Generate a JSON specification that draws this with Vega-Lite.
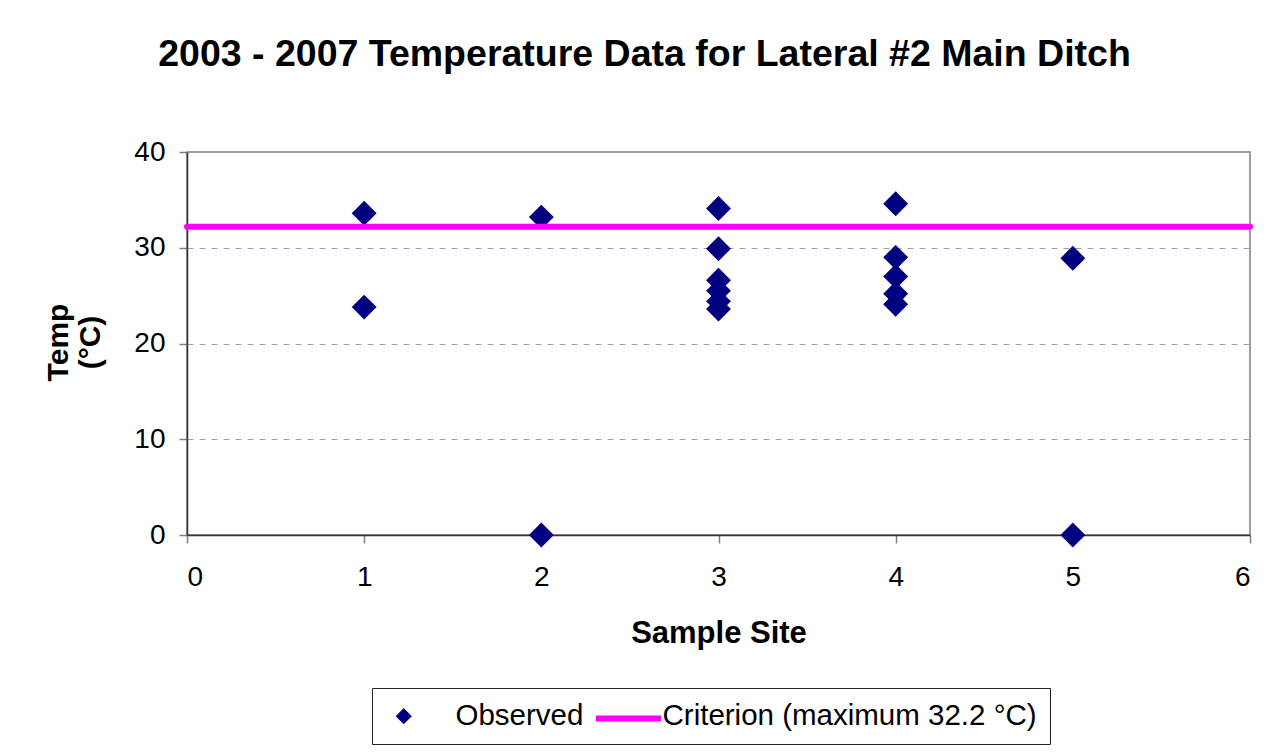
{
  "$schema": "https://vega.github.io/schema/vega-lite/v6.json",
  "width": 1063,
  "height": 383,
  "autosize": {"type": "none"},
  "padding": {"left": 187, "top": 152, "right": 34, "bottom": 218},
  "background": "white",
  "title": {
    "text": "2003 - 2007 Temperature Data for Lateral #2 Main Ditch",
    "font": "Liberation Sans",
    "fontSize": 37.5,
    "fontWeight": "bold",
    "color": "black",
    "anchor": "middle",
    "offset": 65,
    "dx": -74
  },
  "config": {
    "view": {"stroke": "#808080", "strokeWidth": 1.5},
    "axis": {
      "labelFont": "Liberation Sans",
      "labelFontSize": 28,
      "labelColor": "black",
      "titleFont": "Liberation Sans",
      "titleFontSize": 31,
      "titleFontWeight": "bold",
      "titleColor": "black",
      "domainColor": "#333333",
      "domainWidth": 1.5,
      "tickColor": "#808080",
      "tickSize": 8,
      "tickWidth": 1.5,
      "labelOverlap": false
    }
  },
  "layer": [
    {
      "data": {
        "values": [
          {"site": 1, "temp": 33.6, "series": "Observed"},
          {"site": 1, "temp": 23.8, "series": "Observed"},
          {"site": 2, "temp": 33.2, "series": "Observed"},
          {"site": 2, "temp": 0, "series": "Observed"},
          {"site": 3, "temp": 34.1, "series": "Observed"},
          {"site": 3, "temp": 29.9, "series": "Observed"},
          {"site": 3, "temp": 26.6, "series": "Observed"},
          {"site": 3, "temp": 25.5, "series": "Observed"},
          {"site": 3, "temp": 24.4, "series": "Observed"},
          {"site": 3, "temp": 23.6, "series": "Observed"},
          {"site": 4, "temp": 34.6, "series": "Observed"},
          {"site": 4, "temp": 29.0, "series": "Observed"},
          {"site": 4, "temp": 27.0, "series": "Observed"},
          {"site": 4, "temp": 25.2, "series": "Observed"},
          {"site": 4, "temp": 24.1, "series": "Observed"},
          {"site": 5, "temp": 28.9, "series": "Observed"},
          {"site": 5, "temp": 0, "series": "Observed"}
        ]
      },
      "mark": {"type": "point", "filled": true, "opacity": 1, "size": 620, "shape": "diamond"},
      "encoding": {
        "x": {
          "field": "site",
          "type": "quantitative",
          "scale": {"domain": [0, 6], "nice": false},
          "axis": {"values": [0, 1, 2, 3, 4, 5, 6], "grid": false, "title": "Sample Site", "titlePadding": 27, "labelPadding": 20}
        },
        "y": {
          "field": "temp",
          "type": "quantitative",
          "scale": {"domain": [0, 40], "nice": false},
          "axis": {
            "values": [0, 10, 20, 30, 40],
            "grid": true,
            "gridColor": "#a0a0a0",
            "gridDash": [6, 6],
            "gridWidth": 1,
            "labelPadding": 14,
            "title": ["Temp", "(°C)"],
            "titleFontSize": 30,
            "titleLineHeight": 32,
            "titleX": -129,
            "titleY": 190,
            "titleBaseline": "middle",
            "titleAlign": "center"
          }
        },
        "fill": {
          "field": "series",
          "type": "nominal",
          "scale": {"domain": ["Observed", "Criterion (maximum 32.2 °C)"], "range": ["#000080", "transparent"]},
          "legend": {
            "title": null,
            "orient": "none",
            "direction": "horizontal",
            "legendX": 185,
            "legendY": 536,
            "strokeColor": "#222222",
            "padding": 13,
            "labelFont": "Liberation Sans",
            "labelFontSize": 29.5,
            "labelColor": "black",
            "labelLimit": 0,
            "labelOffset": 37,
            "columnPadding": 8,
            "symbolSize": 260,
            "symbolOffset": 4,
            "symbolLimit": 2
          }
        }
      }
    },
    {
      "data": {"values": [{"criterion": 32.2, "label": "Criterion (maximum 32.2 °C)"}]},
      "mark": {"type": "rule", "strokeWidth": 6, "strokeCap": "round"},
      "encoding": {
        "y": {"field": "criterion", "type": "quantitative"},
        "stroke": {
          "field": "label",
          "type": "nominal",
          "scale": {"domain": ["Criterion (maximum 32.2 °C)"], "range": ["#FF00FF"]},
          "legend": {
            "title": null,
            "orient": "none",
            "legendX": 406,
            "legendY": 531,
            "padding": 0,
            "labelOpacity": 0,
            "labelExpr": "''",
            "labelFontSize": 2,
            "labelOffset": 0,
            "symbolType": "stroke",
            "symbolSize": 4225,
            "symbolStrokeWidth": 6
          }
        }
      }
    }
  ]
}
